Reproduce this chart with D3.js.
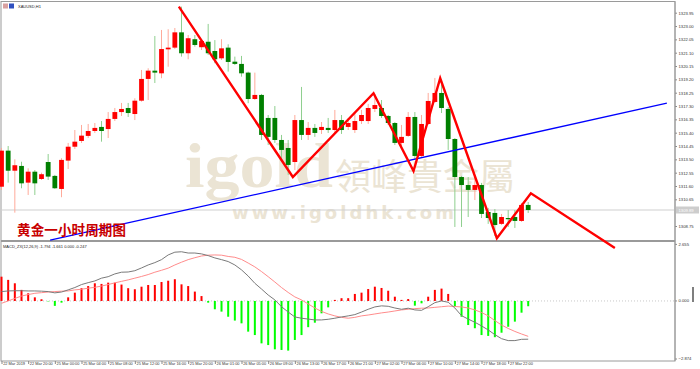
<!DOCTYPE html>
<html>
<head>
<meta charset="utf-8">
<script src="https://cdn.jsdelivr.net/npm/d3@7"></script>
<style>
body { margin: 0; background: #fff; }
svg text { font-family: "Liberation Sans", Arial, sans-serif; }
</style>
</head>
<body>
<svg id="chart" width="700" height="369"></svg>
<script>
// XAUUSD H1, 22-27 Mar 2019
var timeLabels = ["22 Mar 2019", "22 Mar 20:00", "25 Mar 00:00", "25 Mar 04:00", "25 Mar 08:00",
    "25 Mar 12:00", "25 Mar 16:00", "25 Mar 20:00", "26 Mar 01:00", "26 Mar 05:00",
    "26 Mar 09:00", "26 Mar 13:00", "26 Mar 17:00", "26 Mar 21:00", "27 Mar 02:00",
    "27 Mar 06:00", "27 Mar 10:00", "27 Mar 14:00", "27 Mar 18:00", "27 Mar 22:00"];
var timeTickBars = [0, 4, 8, 12, 16, 20, 24, 28, 32, 36, 40, 44, 48, 52, 56, 60, 64, 68, 72, 76];

var priceTicks = [1323.95, 1323.00, 1322.05, 1321.10, 1320.15, 1319.20, 1318.25, 1317.30, 1316.35,
    1315.40, 1314.45, 1313.50, 1312.55, 1311.60, 1310.65, 1309.70, 1308.75];
var macdTicks = [2.655, 0, -2.874];

var opens = [1311.55, 1314.12, 1312.69, 1313.03, 1311.84, 1312.62, 1312.10, 1313.31, 1312.32, 1311.39,
    1313.41, 1314.40, 1314.81, 1315.17, 1315.52, 1315.81, 1315.66, 1316.38, 1316.87, 1317.16,
    1316.73, 1317.68, 1319.23, 1319.82, 1319.63, 1321.34, 1321.46, 1322.55, 1321.06, 1322.06,
    1321.49, 1321.88, 1321.22, 1320.70, 1321.46, 1320.46, 1320.30, 1319.68, 1317.80, 1318.09,
    1316.45, 1316.45, 1314.88, 1314.31, 1313.31, 1316.30, 1315.24, 1315.74, 1315.59, 1315.74,
    1315.59, 1316.30, 1315.81, 1315.59, 1316.23, 1316.23, 1317.09, 1317.16, 1316.59, 1316.09,
    1314.67, 1315.17, 1316.52, 1313.74, 1316.02, 1317.59, 1318.23, 1317.09, 1314.95, 1312.24,
    1311.67, 1311.32, 1311.67, 1309.75, 1309.68, 1308.90, 1309.32, 1309.39, 1309.11, 1310.25];
var highs = [1314.31, 1314.45, 1313.50, 1313.33, 1312.86, 1312.74, 1312.55, 1313.88, 1312.39, 1313.58,
    1314.67, 1315.59, 1315.95, 1316.02, 1316.09, 1316.23, 1316.87, 1317.16, 1317.52, 1317.52,
    1317.85, 1319.87, 1319.99, 1322.29, 1322.72, 1322.77, 1322.86, 1324.38, 1322.36, 1322.36,
    1322.06, 1323.15, 1322.00, 1322.06, 1321.70, 1320.82, 1320.87, 1319.75, 1319.68, 1318.16,
    1316.66, 1317.30, 1315.24, 1314.88, 1316.66, 1318.66, 1316.16, 1316.02, 1316.16, 1316.45,
    1317.02, 1316.66, 1316.45, 1316.87, 1317.02, 1317.45, 1318.16, 1317.73, 1316.66, 1316.16,
    1315.95, 1316.87, 1316.87, 1316.66, 1318.23, 1319.30, 1318.80, 1317.23, 1315.02, 1312.32,
    1312.24, 1312.39, 1311.82, 1310.04, 1309.96, 1309.61, 1309.89, 1309.89, 1310.39, 1310.46];
var lows = [1311.32, 1311.84, 1309.70, 1311.44, 1310.96, 1310.96, 1312.03, 1312.03, 1311.39, 1310.80,
    1312.81, 1314.24, 1314.67, 1315.02, 1315.38, 1314.76, 1315.02, 1316.23, 1316.59, 1316.52,
    1316.30, 1317.61, 1317.73, 1318.94, 1319.28, 1320.10, 1321.36, 1320.82, 1320.63, 1321.53,
    1321.29, 1320.94, 1320.35, 1320.58, 1319.75, 1320.22, 1319.39, 1317.50, 1317.73, 1314.88,
    1314.52, 1314.67, 1313.46, 1312.39, 1312.74, 1314.88, 1314.88, 1315.10, 1315.31, 1315.38,
    1315.38, 1315.31, 1315.59, 1315.38, 1316.02, 1316.02, 1316.87, 1316.45, 1315.95, 1314.52,
    1314.31, 1315.10, 1313.46, 1313.67, 1315.95, 1317.52, 1316.80, 1314.17, 1308.68, 1308.68,
    1309.39, 1310.60, 1309.32, 1308.90, 1308.04, 1308.82, 1308.68, 1308.61, 1309.04, 1309.68];
var closes = [1314.12, 1312.69, 1313.08, 1311.79, 1312.62, 1311.79, 1312.44, 1312.27, 1311.44, 1313.46,
    1314.40, 1314.76, 1315.19, 1315.52, 1315.74, 1315.52, 1316.38, 1316.87, 1317.09, 1316.80,
    1317.68, 1319.23, 1319.82, 1319.68, 1321.36, 1321.46, 1322.55, 1321.06, 1322.13, 1321.65,
    1321.93, 1321.06, 1320.63, 1321.41, 1320.44, 1320.30, 1319.63, 1317.80, 1318.09, 1315.24,
    1315.10, 1314.88, 1314.17, 1313.10, 1316.30, 1315.24, 1315.74, 1315.38, 1315.81, 1315.59,
    1316.30, 1315.59, 1316.09, 1316.23, 1316.66, 1317.16, 1317.37, 1316.59, 1316.09, 1314.67,
    1315.10, 1316.52, 1313.74, 1316.02, 1317.66, 1318.23, 1317.16, 1314.95, 1312.24, 1311.67,
    1311.32, 1311.67, 1309.61, 1309.32, 1308.82, 1309.39, 1309.29, 1309.11, 1310.25, 1309.89];

var macdMain = [0.44, 0.47, 0.48, 0.48, 0.47, 0.47, 0.46, 0.44, 0.38, 0.42,
    0.52, 0.63, 0.77, 0.86, 0.94, 1.07, 1.14, 1.27, 1.35, 1.36,
    1.42, 1.55, 1.69, 1.80, 1.94, 2.16, 2.29, 2.31, 2.25, 2.25,
    2.21, 2.13, 2.02, 1.94, 1.85, 1.69, 1.46, 1.17, 0.83, 0.56,
    0.28, 0.05, -0.27, -0.52, -0.75, -0.81, -0.85, -0.89, -0.89, -0.86,
    -0.81, -0.75, -0.70, -0.64, -0.52, -0.39, -0.28, -0.23, -0.25, -0.33,
    -0.39, -0.34, -0.42, -0.44, -0.27, -0.08, 0.00, -0.06, -0.33, -0.69,
    -0.85, -1.00, -1.17, -1.36, -1.58, -1.77, -1.86, -1.86, -1.80, -1.794];
var macdSignal = [-0.11, 0.00, 0.12, 0.23, 0.30, 0.36, 0.39, 0.42, 0.44, 0.46,
    0.47, 0.52, 0.55, 0.60, 0.64, 0.70, 0.77, 0.85, 0.92, 0.99,
    1.07, 1.15, 1.24, 1.35, 1.44, 1.54, 1.69, 1.82, 1.94, 2.03,
    2.11, 2.15, 2.16, 2.15, 2.09, 2.05, 1.95, 1.78, 1.60, 1.38,
    1.14, 0.89, 0.63, 0.40, 0.19, 0.05, -0.14, -0.33, -0.49, -0.61,
    -0.70, -0.77, -0.81, -0.77, -0.70, -0.66, -0.61, -0.56, -0.52, -0.47,
    -0.42, -0.39, -0.36, -0.34, -0.33, -0.30, -0.27, -0.24, -0.26, -0.28,
    -0.33, -0.42, -0.54, -0.70, -0.92, -1.13, -1.29, -1.43, -1.55, -1.661];
var macdHist = [1.14, 0.99, 0.83, 0.52, 0.36, 0.17, 0.08, -0.02, -0.23, -0.08,
    0.17, 0.39, 0.60, 0.70, 0.83, 0.80, 0.86, 0.86, 0.77, 0.60,
    0.55, 0.67, 0.75, 0.75, 0.89, 0.95, 1.02, 0.78, 0.70, 0.44,
    0.23, -0.08, -0.39, -0.50, -0.74, -0.92, -1.05, -1.44, -1.60, -1.99,
    -2.07, -2.27, -2.30, -2.33, -1.83, -1.60, -1.23, -1.02, -0.58, -0.30,
    0.05, 0.13, 0.13, 0.33, 0.39, 0.56, 0.67, 0.61, 0.48, 0.20,
    0.05, 0.09, -0.22, -0.11, 0.20, 0.52, 0.58, 0.33, -0.27, -0.74,
    -1.13, -1.28, -1.60, -1.64, -1.70, -1.49, -1.21, -0.97, -0.55, -0.247];

// hand drawn analysis lines: [bar, price]
var zigzag = [[26.6, 1324.38], [43.7, 1312.24], [55.8, 1318.21], [61.8, 1312.67],
    [65.8, 1319.28], [74.3, 1307.88], [79.4, 1311.08], [92, 1307.19]];
var trendLine = [[7.3, 1307.75], [99.8, 1317.50]];

var svg = d3.select('#chart');
var plotLeft = 1, plotRight = 675;
var mainTop = 1.5, mainBottom = 241, subTop = 242, subBottom = 361;

var x = d3.scaleLinear().domain([0, 79]).range([1.5, 528.2]);
var y = d3.scaleLinear().domain([1308.75, 1323.95]).range([226, 12.7]);
var ym = d3.scaleLinear().domain([-2.874, 2.655]).range([362.2, 244.4]);

svg.append('rect').attr('width', 700).attr('height', 369).attr('fill', '#fff');

// watermark
var wm = svg.append('g').attr('fill', '#ebe4d4');
wm.append('text').attr('x', 185).attr('y', 187)
    .style('font-family', '"Liberation Serif", serif').style('font-weight', 'bold').style('font-size', '64px')
    .attr('textLength', 148).attr('lengthAdjust', 'spacingAndGlyphs').text('igold');
wm.append('text').attr('x', 335).attr('y', 190)
    .style('font-family', '"Noto Sans CJK TC", sans-serif').style('font-size', '36px')
    .attr('textLength', 180).text('領峰貴金屬');
wm.append('text').attr('x', 232).attr('y', 219)
    .style('font-family', '"DejaVu Sans", sans-serif').style('font-weight', 'bold').style('font-size', '18px')
    .attr('textLength', 222).text('www.igoldhk.com');

// frame
svg.append('rect').attr('x', plotLeft).attr('y', mainTop)
    .attr('width', plotRight - plotLeft).attr('height', subBottom - mainTop)
    .attr('fill', 'none').attr('stroke', '#9a9a9a').attr('stroke-width', 1);
svg.append('line').attr('x1', plotLeft).attr('x2', plotRight)
    .attr('y1', mainBottom).attr('y2', mainBottom)
    .attr('stroke', '#9a9a9a').attr('stroke-width', 2);

// current price line
var lastClose = closes[closes.length - 1];
svg.append('line').attr('x1', plotLeft).attr('x2', plotRight)
    .attr('y1', y(lastClose)).attr('y2', y(lastClose))
    .attr('stroke', '#cfcfcf').attr('stroke-width', 1);

// candles
var bars = d3.range(opens.length);
var candles = svg.append('g').selectAll('g').data(bars).enter().append('g');
candles.append('line')
    .attr('x1', function(i) { return x(i); })
    .attr('x2', function(i) { return x(i); })
    .attr('y1', function(i) { return y(highs[i]); })
    .attr('y2', function(i) { return y(lows[i]); })
    .attr('stroke', function(i) { return closes[i] >= opens[i] ? '#ffaa9a' : '#8fcf8f'; })
    .attr('stroke-width', 1);
candles.append('rect')
    .attr('x', function(i) { return x(i) - 2.4; })
    .attr('width', 4.8)
    .attr('y', function(i) { return y(Math.max(opens[i], closes[i])); })
    .attr('height', function(i) { return Math.max(1.2, Math.abs(y(opens[i]) - y(closes[i]))); })
    .attr('fill', function(i) { return closes[i] >= opens[i] ? '#ff0000' : '#007f00'; });

// trend line and zigzag
var pathLine = d3.line().x(function(d) { return x(d[0]); }).y(function(d) { return y(d[1]); });
svg.append('path').attr('d', pathLine(trendLine))
    .attr('fill', 'none').attr('stroke', '#0000ff').attr('stroke-width', 1.3);
svg.append('path').attr('d', pathLine(zigzag))
    .attr('fill', 'none').attr('stroke', '#ff0000').attr('stroke-width', 2.4)
    .attr('stroke-linejoin', 'miter');

// chart title text
svg.append('text').attr('x', 17).attr('y', 235)
    .style('font-family', '"Noto Sans CJK SC", sans-serif').style('font-weight', 'bold')
    .style('font-size', '13.5px').attr('fill', '#c80000')
    .attr('textLength', 109).text('黄金一小时周期图');

// MACD panel
svg.append('line').attr('x1', plotLeft).attr('x2', plotRight)
    .attr('y1', ym(0)).attr('y2', ym(0))
    .attr('stroke', '#c8c8c8').attr('stroke-dasharray', '1,2');
svg.append('g').selectAll('rect').data(bars).enter().append('rect')
    .attr('x', function(i) { return x(i) - 1; })
    .attr('width', 2)
    .attr('y', function(i) { return Math.min(ym(0), ym(macdHist[i])); })
    .attr('height', function(i) { return Math.abs(ym(macdHist[i]) - ym(0)); })
    .attr('fill', function(i) { return macdHist[i] >= 0 ? '#ff0000' : '#00ff00'; });

var macdPath = d3.line().x(function(d, i) { return x(i); }).y(function(d) { return ym(d); });
svg.append('path').attr('d', macdPath(macdSignal))
    .attr('fill', 'none').attr('stroke', '#ff8c8c').attr('stroke-width', 1);
svg.append('path').attr('d', macdPath(macdMain))
    .attr('fill', 'none').attr('stroke', '#7a7a7a').attr('stroke-width', 1);

svg.append('text').attr('x', 3).attr('y', 247.5)
    .style('font-size', '4px').attr('fill', '#222')
    .text('MACD_ZX(12,26,9) ' + macdMain[79].toFixed(3) + ' ' + macdSignal[79].toFixed(3) + ' 0.000 ' + macdHist[79].toFixed(3));

// symbol caption
svg.append('rect').attr('x', 3).attr('y', 3.5).attr('width', 5).attr('height', 5).attr('fill', '#d9a0a0');
svg.append('rect').attr('x', 9).attr('y', 3.5).attr('width', 5).attr('height', 5).attr('fill', '#3050c0');
svg.append('text').attr('x', 18).attr('y', 7.5).style('font-size', '4px').attr('fill', '#222').text('XAUUSD,H1');

// price axis (the label under the current price tag is left out)
var shownTicks = priceTicks.filter(function(p) { return Math.abs(p - lastClose) > 0.4; });
var priceAxis = d3.axisRight(y).tickValues(shownTicks).tickSize(2).tickPadding(1.5)
    .tickFormat(d3.format('.2f'));
var pa = svg.append('g').attr('transform', 'translate(' + plotRight + ',0)').call(priceAxis);
pa.select('.domain').remove();
pa.selectAll('text').style('font-size', '4.2px').attr('fill', '#333');
pa.selectAll('line').attr('stroke', '#888');

var macdAxis = d3.axisRight(ym).tickValues(macdTicks).tickSize(2).tickPadding(1.5)
    .tickFormat(d3.format('.3f'));
var ma = svg.append('g').attr('transform', 'translate(' + plotRight + ',0)').call(macdAxis);
ma.select('.domain').remove();
ma.selectAll('text').style('font-size', '4.2px').attr('fill', '#333');
ma.selectAll('line').attr('stroke', '#888');
ma.selectAll('.tick').attr('transform', function(d) {
    return 'translate(0,' + Math.max(subTop + 2, Math.min(subBottom - 2, ym(d))) + ')';
});

svg.append('line').attr('x1', plotRight).attr('x2', plotRight).attr('y1', mainTop).attr('y2', subBottom)
    .attr('stroke', '#9a9a9a');

// current price tag
var tag = svg.append('g').attr('transform', 'translate(' + (plotRight + 1) + ',' + y(lastClose) + ')');
tag.append('rect').attr('x', 0).attr('y', -3.5).attr('width', 23).attr('height', 7).attr('fill', '#cdcdcd');
tag.append('text').attr('x', 2.5).attr('y', 1.5).style('font-size', '4.2px').attr('fill', '#fff')
    .text(d3.format('.2f')(lastClose));

// time axis
var timeAxis = d3.axisBottom(x).tickValues(timeTickBars).tickSize(3)
    .tickFormat(function(d, i) { return timeLabels[i]; });
var ta = svg.append('g').attr('transform', 'translate(0,' + subBottom + ')').call(timeAxis);
ta.select('.domain').remove();
ta.selectAll('line').attr('stroke', '#888');
ta.selectAll('text').style('font-size', '3.9px').attr('fill', '#333')
    .attr('text-anchor', 'start').attr('dx', '1.2').attr('y', 1.2).attr('dy', '3.2');

// stray cursor mark at right of MACD panel
svg.append('rect').attr('x', 692.5).attr('y', 287).attr('width', 1).attr('height', 15).attr('fill', '#000');
</script>
</body>
</html>
